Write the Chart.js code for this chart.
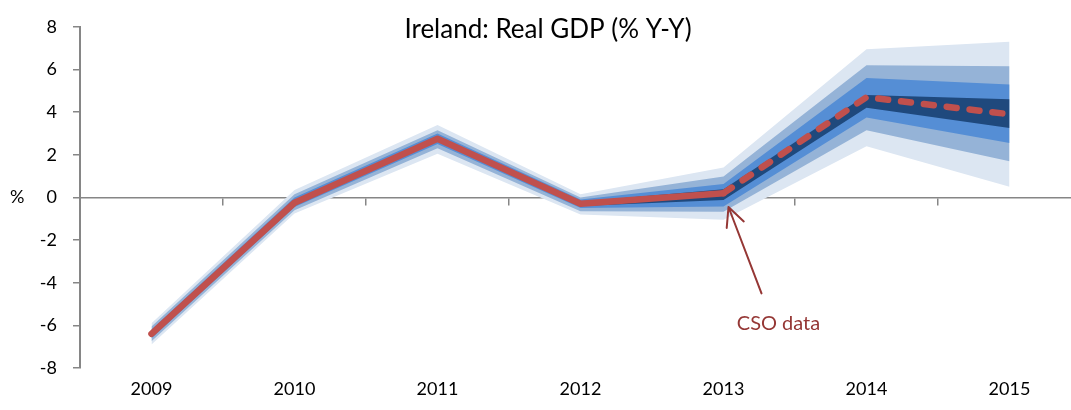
<!DOCTYPE html>
<html>
<head>
<meta charset="utf-8">
<title>Ireland: Real GDP</title>
<script src="https://cdn.jsdelivr.net/npm/chart.js@4/dist/chart.umd.min.js"></script>
<style>
  html, body { margin: 0; padding: 0; background: #fff; overflow: hidden; }
  #wrap { position: relative; width: 1090px; height: 410px; }
</style>
</head>
<body>
<div id="wrap"><canvas id="gdpChart"></canvas></div>
<script>
// real GDP growth, % year on year
const years = ['2009', '2010', '2011', '2012', '2013', '2014', '2015'];
const gdpCentral = [-6.4, -0.25, 2.75, -0.3, 0.2, 4.7, 3.9];

// fan bands, widest first
const band4Upper = [-5.9, 0.35, 3.4, 0.15, 1.4, 6.95, 7.3];
const band4Lower = [-6.9, -0.75, 2.05, -0.8, -1.05, 2.4, 0.5];
const band3Upper = [-6.05, 0.15, 3.15, 0.0, 0.98, 6.2, 6.15];
const band3Lower = [-6.75, -0.6, 2.3, -0.65, -0.67, 3.15, 1.7];
const band2Upper = [-6.2, 0.0, 3.0, -0.1, 0.63, 5.6, 5.3];
const band2Lower = [-6.6, -0.45, 2.5, -0.5, -0.43, 3.75, 2.55];
const band1Upper = [-6.3, -0.15, 2.85, -0.2, 0.38, 4.8, 4.6];
const band1Lower = [-6.5, -0.35, 2.65, -0.4, -0.12, 4.2, 3.25];

const yTicks = [-8, -6, -4, -2, 0, 2, 4, 6, 8];
const lastActual = 4; // index of 2013, last CSO outturn

const FONT = 'Lato, "Open Sans", sans-serif';
const AXIS_GREY = '#868686';
const LINE_RED = '#c0504d';
const NOTE_RED = '#953735';

function bandPair(upper, lower, colour, order) {
    const base = { pointRadius: 0, borderWidth: 0, tension: 0, order };
    return [
        Object.assign({}, base, { data: upper, fill: '+1', backgroundColor: colour, borderColor: colour }),
        Object.assign({}, base, { data: lower, fill: false, borderColor: colour })
    ];
}

const chartText = {
    id: 'chartText',
    afterDraw(chart) {
        const ctx = chart.ctx;
        const x = chart.scales.x;
        const y = chart.scales.y;
        ctx.save();

        ctx.fillStyle = '#000';
        ctx.font = '26px ' + FONT;
        ctx.textAlign = 'center';
        ctx.textBaseline = 'middle';
        ctx.fillText('Ireland: Real GDP (% Y-Y)', 548, y.getPixelForValue(7.9) + 1);

        ctx.font = '18px ' + FONT;
        ctx.textAlign = 'left';
        ctx.fillText('%', 10, y.getPixelForValue(0));

        // arrow pointing at the 2013 outturn
        const tipX = x.getPixelForValue(lastActual) + 5;
        const tipY = y.getPixelForValue(-0.45);
        const tailX = x.getPixelForValue(lastActual) + 38;
        const tailY = y.getPixelForValue(-4.5);
        const ang = Math.atan2(tailY - tipY, tailX - tipX);
        const head = 21, spread = 0.45;
        ctx.strokeStyle = NOTE_RED;
        ctx.lineWidth = 2;
        ctx.lineCap = 'round';
        ctx.lineJoin = 'round';
        ctx.beginPath();
        ctx.moveTo(tailX, tailY);
        ctx.lineTo(tipX, tipY);
        ctx.moveTo(tipX + head * Math.cos(ang - spread), tipY + head * Math.sin(ang - spread));
        ctx.lineTo(tipX, tipY);
        ctx.lineTo(tipX + head * Math.cos(ang + spread), tipY + head * Math.sin(ang + spread));
        ctx.stroke();

        ctx.fillStyle = NOTE_RED;
        ctx.font = '20px ' + FONT;
        ctx.textAlign = 'center';
        ctx.fillText('CSO data', x.getPixelForValue(lastActual) + 55, y.getPixelForValue(-5.9));
        ctx.restore();
    }
};

new Chart(document.getElementById('gdpChart'), {
    type: 'line',
    data: {
        labels: years,
        datasets: [
            ...bandPair(band4Upper, band4Lower, '#dce6f2', 40),
            ...bandPair(band3Upper, band3Lower, '#95b3d7', 30),
            ...bandPair(band2Upper, band2Lower, '#558ed5', 20),
            ...bandPair(band1Upper, band1Lower, '#1f497d', 10),
            {
                data: gdpCentral,
                borderColor: LINE_RED,
                borderWidth: 6.5,
                pointRadius: 0,
                tension: 0,
                fill: false,
                borderCapStyle: 'round',
                borderJoinStyle: 'round',
                order: 0,
                segment: {
                    borderDash: c => c.p0DataIndex >= lastActual ? [10, 13] : undefined
                }
            }
        ]
    },
    options: {
        responsive: true,
        maintainAspectRatio: false,
        animation: false,
        layout: { padding: { top: 18, right: 9, bottom: 0, left: 0 } },
        plugins: {
            legend: { display: false },
            tooltip: { enabled: false }
        },
        scales: {
            x: {
                type: 'category',
                position: { y: 0 },
                offset: true,
                border: { display: true, color: AXIS_GREY, width: 1.5 },
                grid: { offset: true, drawOnChartArea: false, drawTicks: true, tickLength: 7, color: AXIS_GREY, lineWidth: 1.5 },
                ticks: { display: false }
            },
            x2: {
                type: 'category',
                labels: years,
                position: 'bottom',
                offset: true,
                afterFit: s => { s.height = 42; },
                border: { display: false },
                grid: { display: false, drawTicks: false },
                ticks: { color: '#000', font: { family: FONT, size: 18 }, padding: 10, maxRotation: 0 }
            },
            y: {
                min: -8,
                max: 8,
                afterBuildTicks: s => { s.ticks = yTicks.map(v => ({ value: v })); },
                afterFit: s => { s.width = 80; },
                border: { display: true, color: AXIS_GREY, width: 2 },
                grid: { drawOnChartArea: false, drawTicks: true, tickLength: 7, color: AXIS_GREY, lineWidth: 1.5 },
                ticks: { color: '#000', font: { family: FONT, size: 18 }, padding: 16 }
            }
        }
    },
    plugins: [chartText]
});
</script>
</body>
</html>
